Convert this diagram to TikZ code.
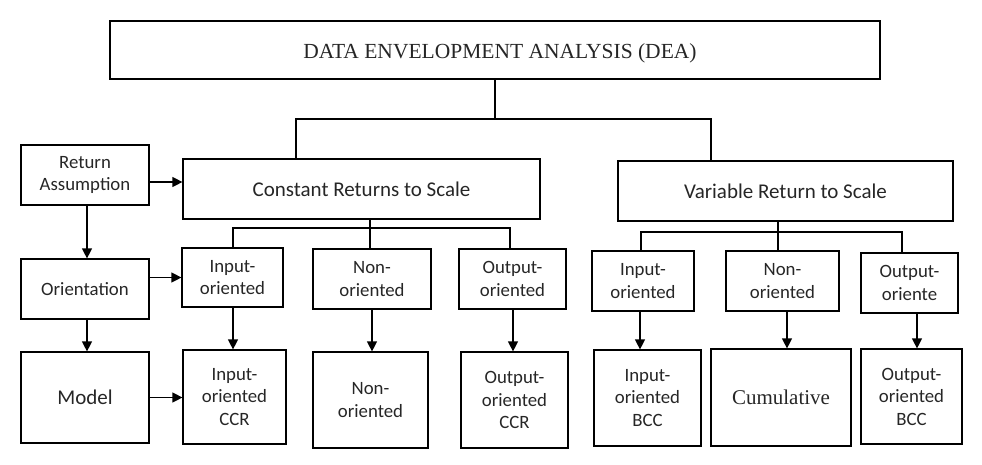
\documentclass[tikz,border=0pt]{standalone}
\usepackage{fontspec}
\setmainfont{Carlito}
\newfontfamily\tnr{Liberation Serif}
\usetikzlibrary{arrows.meta}
\begin{document}
\begin{tikzpicture}[x=1pt,y=-1pt,
  box/.style={draw, line width=1.2pt, rectangle, inner sep=0pt, align=center, text=black!85,
              font=\fontsize{18.8}{22.5}\selectfont},
  big/.style={font=\fontsize{21}{25}\selectfont},
  ln/.style={line width=1.2pt},
  arr/.style={line width=1.2pt, -{Triangle[length=10pt,width=10pt]}}]
\useasboundingbox (0,0) rectangle (982,464);
% top
\node[box, minimum width=770pt, minimum height=58pt] (dea) at (495,50) {};
\node[text=black!85, font=\tnr\fontsize{21.5}{24}\selectfont, inner sep=0pt] (deat) at (500,53) {DATA ENVELOPMENT ANALYSIS (DEA)};
\node[box, big, minimum width=357pt, minimum height=60pt] (crs) at (361.5,189) {Constant Returns to Scale};
\node[box, big, minimum width=335pt, minimum height=60pt] (vrs) at (785.5,191) {Variable Return to Scale};
% left column
\node[box, minimum width=128pt, minimum height=60pt] (ra) at (85,175) {Return\\Assumption};
\node[box, minimum width=128pt, minimum height=60pt] (ori) at (85,289) {Orientation};
\node[box, big, minimum width=128pt, minimum height=91pt] (model) at (85,397.5) {Model};
% CRS children
\node[box, minimum width=101pt, minimum height=59pt] (ci) at (232.5,277.5) {Input-\\oriented};
\node[box, minimum width=118pt, minimum height=60pt] (cn) at (372,279) {Non-\\oriented};
\node[box, minimum width=107pt, minimum height=60pt] (co) at (512.5,279) {Output-\\oriented};
\node[box, minimum width=103pt, minimum height=94pt] (cic) at (234.5,397) {Input-\\oriented\\CCR};
\node[box, minimum width=115pt, minimum height=96pt] (cnc) at (370.5,400) {Non-\\oriented};
\node[box, minimum width=107pt, minimum height=96pt] (coc) at (514.5,400) {Output-\\oriented\\CCR};
% VRS children
\node[box, minimum width=102pt, minimum height=60pt] (vi) at (643,281) {Input-\\oriented};
\node[box, minimum width=113pt, minimum height=60pt] (vn) at (782.5,281) {Non-\\oriented};
\node[box, minimum width=97pt, minimum height=60pt] (vo) at (909.5,283) {Output-\\oriente};
\node[box, minimum width=107pt, minimum height=96pt] (vic) at (647.5,398) {Input-\\oriented\\BCC};
\node[box, minimum width=140pt, minimum height=97pt, font=\tnr\fontsize{21}{25}\selectfont] (vnc) at (781,397.5) {Cumulative};
\node[box, minimum width=101pt, minimum height=95pt] (voc) at (911.5,396.5) {Output-\\oriented\\BCC};
% tree connectors
\coordinate (busA) at (296,119);
\coordinate (busB) at (711,119);
\draw[ln] (dea.south) -- (dea.south |- busA);
\draw[ln] (crs.north -| busA) |- (busB) -- (vrs.north -| busB);
\coordinate (cb1) at (233,228);
\coordinate (cb2) at (510,228);
\coordinate (cbm) at (370,228);
\draw[ln] (ci.north -| cb1) |- (cb2) -- (co.north -| cb2);
\draw[ln] (crs.south -| cbm) -- (cn.north -| cbm);
\coordinate (vb1) at (641,232);
\coordinate (vb2) at (902,232);
\coordinate (vbm) at (778,232);
\draw[ln] (vi.north -| vb1) |- (vb2) -- (vo.north -| vb2);
\draw[ln] (vrs.south -| vbm) -- (vn.north -| vbm);
% arrow guide coordinates
\coordinate (raY) at (0,182);
\coordinate (rox) at (87,0);
\coordinate (cix) at (233,0);
\coordinate (cnx) at (372,0);
\coordinate (cox) at (513,0);
\coordinate (vix) at (640,0);
\coordinate (vnx) at (787,0);
\coordinate (vox) at (917,0);
% arrows
\draw[arr] (ra.east |- raY) -- (crs.west |- raY);
\draw[arr] (ra.south -| rox) -- (ori.north -| rox);
\draw[arr] (ori.east |- ci.west) -- (ci.west);
\draw[arr] (ori.south -| rox) -- (model.north -| rox);
\draw[arr] (model.east) -- (cic.west |- model.east);
\draw[arr] (ci.south -| cix) -- (cic.north -| cix);
\draw[arr] (cn.south -| cnx) -- (cnc.north -| cnx);
\draw[arr] (co.south -| cox) -- (coc.north -| cox);
\draw[arr] (vi.south -| vix) -- (vic.north -| vix);
\draw[arr] (vn.south -| vnx) -- (vnc.north -| vnx);
\draw[arr] (vo.south -| vox) -- (voc.north -| vox);
\end{tikzpicture}
\end{document}
